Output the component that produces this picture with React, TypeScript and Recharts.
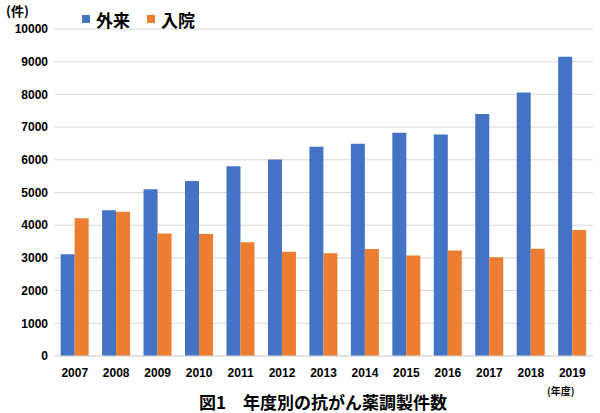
import React from "react";
import { BarChart, Bar, XAxis, YAxis, CartesianGrid } from "recharts";

const years = ["2007","2008","2009","2010","2011","2012","2013","2014","2015","2016","2017","2018","2019"];
const outpatient = [3110, 4460, 5100, 5350, 5800, 6010, 6400, 6490, 6830, 6770, 7400, 8060, 9150];
const inpatient = [4210, 4410, 3750, 3730, 3480, 3190, 3140, 3270, 3070, 3230, 3020, 3280, 3850];
const yTicks = [0, 1000, 2000, 3000, 4000, 5000, 6000, 7000, 8000, 9000, 10000];

const data = years.map((y, i) => ({ year: y, outpatient: outpatient[i], inpatient: inpatient[i] }));

const BLUE = "#4472C4";
const ORANGE = "#ED7D31";
const JP = '"Noto Sans CJK JP", "Noto Sans", sans-serif';
const NUM = '"Liberation Sans", Arial, sans-serif';

export default function App() {
  return (
    <div style={{ position: "absolute", left: 0, top: 0, width: 600, height: 413, background: "#fff" }}>
      <BarChart
        width={600}
        height={413}
        data={data}
        margin={{ top: 29, right: 7, bottom: 27, left: 0 }}
        barCategoryGap="16%"
        barGap={0}
      >
        <CartesianGrid vertical={false} stroke="#d9d9d9" />
        <XAxis
          dataKey="year"
          height={30}
          axisLine={{ stroke: "#d9d9d9" }}
          tickLine={false}
          tickMargin={6}
          tick={{ fill: "#000", fontSize: 12, fontWeight: 700, fontFamily: NUM }}
          interval={0}
        />
        <YAxis
          width={54}
          domain={[0, 10000]}
          ticks={yTicks}
          axisLine={false}
          tickLine={false}
          tickMargin={0}
          tick={{ fill: "#000", fontSize: 12, fontWeight: 700, fontFamily: NUM }}
        />
        <Bar dataKey="outpatient" fill={BLUE} isAnimationActive={false} />
        <Bar dataKey="inpatient" fill={ORANGE} isAnimationActive={false} />
      </BarChart>

      <div style={{ position: "absolute", left: 6, top: 2, fontFamily: JP, fontSize: 13, fontWeight: 700, lineHeight: "18px" }}>(件)</div>

      <div style={{ position: "absolute", left: 82, top: 7, height: 24, display: "flex", alignItems: "center", fontFamily: JP, fontSize: 17, fontWeight: 700 }}>
        <span style={{ display: "inline-block", width: 8, height: 8, background: BLUE, marginRight: 6 }} />
        <span>外来</span>
        <span style={{ display: "inline-block", width: 8, height: 8, background: ORANGE, marginLeft: 17, marginRight: 6 }} />
        <span>入院</span>
      </div>

      <div style={{ position: "absolute", left: 547, top: 384, fontFamily: JP, fontSize: 10, fontWeight: 700, lineHeight: "14px" }}>(年度)</div>

      <div style={{ position: "absolute", left: 199, top: 390, fontFamily: JP, fontSize: 17, fontWeight: 700, lineHeight: "24px", whiteSpace: "pre" }}>図1　年度別の抗がん薬調製件数</div>
    </div>
  );
}
